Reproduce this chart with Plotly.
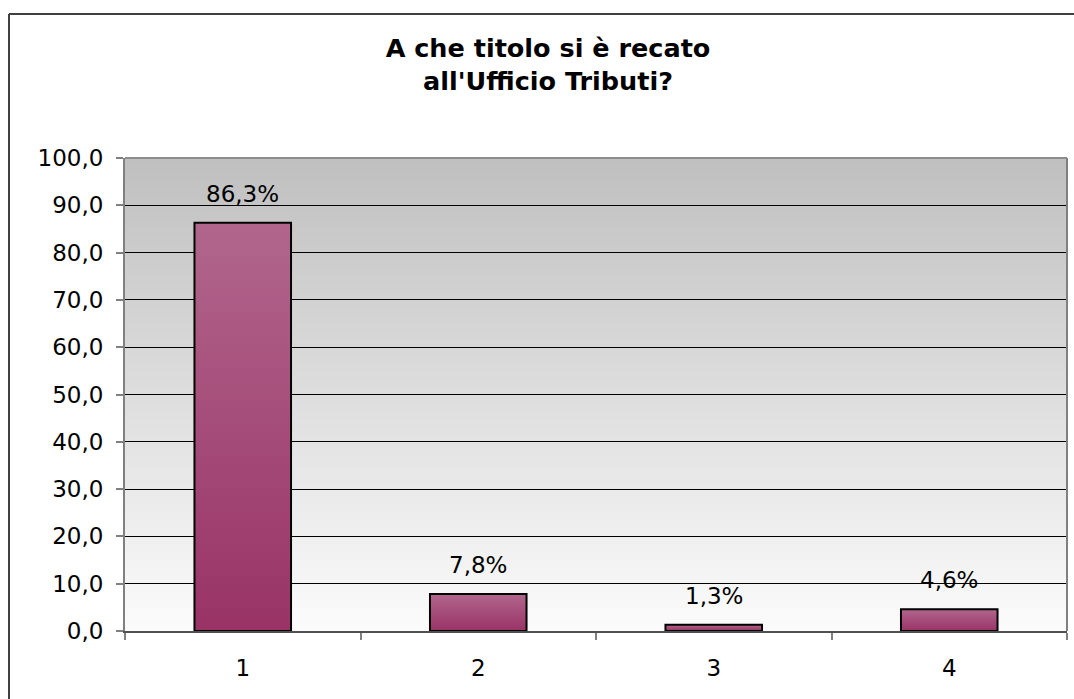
import plotly.graph_objects as go

categories = ["1", "2", "3", "4"]
values = [86.3, 7.8, 1.3, 4.6]
labels = ["86,3%", "7,8%", "1,3%", "4,6%"]
y_ticks = [0, 10, 20, 30, 40, 50, 60, 70, 80, 90, 100]

FONT = "DejaVu Sans, Verdana, sans-serif"
BAR_W = 0.41

fig = go.Figure()

# bars as filled polygons with a vertical gradient (built from data values)
for i, (c, v) in enumerate(zip(categories, values)):
    xc = i + 1
    fig.add_trace(go.Scatter(
        x=[xc - BAR_W / 2, xc + BAR_W / 2, xc + BAR_W / 2, xc - BAR_W / 2, xc - BAR_W / 2],
        y=[0, 0, v, v, 0],
        mode="lines",
        fill="toself",
        fillgradient=dict(type="vertical",
                          colorscale=[[0, "#993366"], [1, "#b1668d"]]),
        line=dict(color="black", width=2),
        hoverinfo="skip",
        showlegend=False,
    ))

# value labels
for i, (v, t) in enumerate(zip(values, labels)):
    fig.add_annotation(x=i + 1, y=v, text=t, showarrow=False,
                       yanchor="bottom", yshift=14,
                       font=dict(family=FONT, size=23, color="black"))

# plot-area vertical gradient background (strips, below gridlines)
n = 120
top = (192, 192, 192)
bot = (251, 251, 251)
for k in range(n):
    f = k / (n - 1)
    col = tuple(round(bot[j] + (top[j] - bot[j]) * f) for j in range(3))
    fig.add_shape(type="rect", xref="x domain", yref="y domain",
                  x0=0, x1=1, y0=k / n, y1=(k + 1) / n + 0.002,
                  fillcolor="rgb(%d,%d,%d)" % col, line=dict(width=0),
                  layer="below")

# plot-area top and right borders
fig.add_shape(type="line", xref="x domain", yref="y domain", x0=0, x1=1, y0=1, y1=1,
              line=dict(color="#8c8c8c", width=2), layer="above")
fig.add_shape(type="line", xref="x domain", yref="y domain", x0=1, x1=1, y0=0, y1=1,
              line=dict(color="#808080", width=2), layer="above")

# outer chart border (top and left visible)
fig.add_shape(type="line", xref="paper", yref="paper",
              x0=(9 - 125) / 942, x1=1.2, y0=(631 - 14) / 473, y1=(631 - 14) / 473,
              line=dict(color="#404040", width=2))
fig.add_shape(type="line", xref="paper", yref="paper",
              x0=(9 - 125) / 942, x1=(9 - 125) / 942, y0=(631 - 14) / 473, y1=-0.3,
              line=dict(color="#404040", width=2))

fig.update_layout(
    width=1074, height=699,
    margin=dict(l=125, r=7, t=158, b=68),
    paper_bgcolor="white",
    plot_bgcolor="white",
    separators=",.",
    font=dict(family=FONT, size=23, color="black"),
    title=dict(text="<b>A che titolo si è recato<br>all'Ufficio Tributi?</b>",
               x=548 / 1074, xref="container", xanchor="center",
               y=1 - 57 / 699, yref="container", yanchor="middle",
               font=dict(family=FONT, size=25.5, color="black")),
    xaxis=dict(range=[0.5, 4.5], tickmode="array", tickvals=[1, 2, 3, 4],
               ticktext=categories, ticks="", showgrid=False, zeroline=False,
               showline=True, linecolor="#505050", linewidth=2,
               ticklabelstandoff=15,
               minor=dict(tickmode="array", tickvals=[0.5, 1.5, 2.5, 3.5, 4.5],
                          ticks="outside", ticklen=7, tickcolor="#808080",
                          tickwidth=2, showgrid=False)),
    yaxis=dict(range=[0, 100], tickmode="array", tickvals=y_ticks,
               tickformat=".1f", ticks="outside", ticklen=7, tickcolor="#808080",
               tickwidth=2, showgrid=True, gridcolor="black", gridwidth=1,
               zeroline=False, showline=True, linecolor="#808080", linewidth=2,
               ticklabelstandoff=8),
)

fig.write_html("out.html")
